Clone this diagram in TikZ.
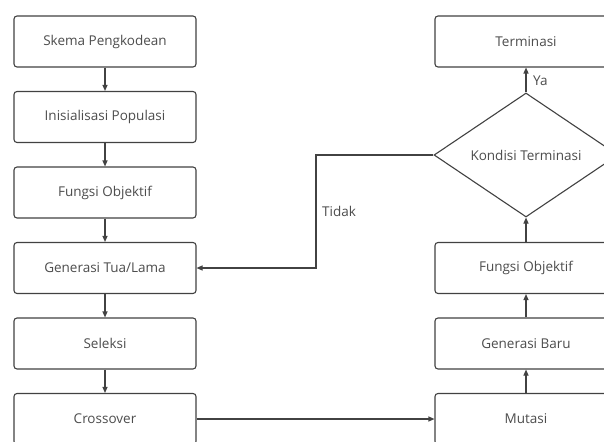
\documentclass[tikz,border=0pt]{standalone}
\usepackage{fontspec}
\setmainfont{Open Sans}
\usetikzlibrary{arrows.meta,shapes.geometric}
\definecolor{linegray}{HTML}{424242}
\definecolor{textgray}{HTML}{4D4D4D}
\begin{document}
\begin{tikzpicture}[x=1pt,y=-1pt,
  stepbox/.style={draw=linegray,line width=1.1pt,rounded corners=3pt,
    minimum width=182pt,minimum height=51pt,inner sep=0pt,
    text=textgray,font=\fontsize{13.5}{15}\selectfont},
  decision/.style={draw=linegray,line width=1.1pt,diamond,aspect=1.48,
    minimum width=184pt,minimum height=124pt,inner sep=0pt,
    text=textgray,font=\fontsize{13.5}{15}\selectfont},
  flow/.style={draw=linegray,line width=1.1pt,-{Triangle[length=6pt,width=5pt]}},
  lbl/.style={text=textgray,font=\fontsize{13.5}{15}\selectfont,inner sep=0pt}]
\path[use as bounding box,clip] (0,0) rectangle (604,441);
\fill[white] (0,0) rectangle (604,441);

% left column
\node[stepbox] (skema) at (105,41.5) {Skema Pengkodean};
\node[stepbox] (init)  at (105,117)  {Inisialisasi Populasi};
\node[stepbox] (fobj1) at (105,192.5) {Fungsi Objektif};
\node[stepbox] (tua)   at (105,268)  {Generasi Tua/Lama};
\node[stepbox] (sel)   at (105,343.5) {Seleksi};
\node[stepbox] (cross) at (105,419)  {Crossover};

% right column
\node[stepbox] (term)  at (526,41.5) {Terminasi};
\node[decision] (kond) at (526,155)  {Kondisi Terminasi};
\node[stepbox] (fobj2) at (526,268)  {Fungsi Objektif};
\node[stepbox] (baru)  at (526,343.5) {Generasi Baru};
\node[stepbox] (mut)   at (526,419)  {Mutasi};

% connectors
\draw[flow] (skema) -- (init);
\draw[flow] (init) -- (fobj1);
\draw[flow] (fobj1) -- (tua);
\draw[flow] (tua) -- (sel);
\draw[flow] (sel) -- (cross);
\draw[flow] (cross) -- (mut);
\draw[flow] (mut) -- (baru);
\draw[flow] (baru) -- (fobj2);
\draw[flow] (fobj2) -- (kond);
\draw[flow] (kond) -- (term);
\coordinate (bendtop) at (316,155);
\coordinate (bendbot) at (316,268);
\draw[flow] (kond.west) -- (bendtop) -- (bendbot) -- (tua.east);

% branch labels
\node[lbl,anchor=west] (ya) at (533,81) {Ya};
\node[lbl,anchor=west] (tidak) at (322,211) {Tidak};
\end{tikzpicture}
\end{document}
